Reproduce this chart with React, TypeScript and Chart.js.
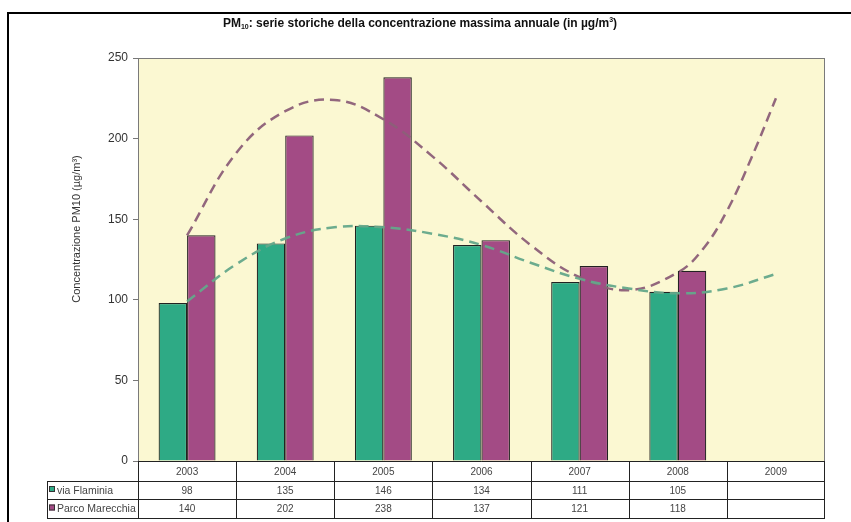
import React, { useEffect, useRef } from "react";
import { Chart, registerables } from "chart.js";

Chart.register(...registerables);

const years = ["2003", "2004", "2005", "2006", "2007", "2008", "2009"];
const viaFlaminia: (number | null)[] = [98, 135, 146, 134, 111, 105, null];
const parcoMarecchia: (number | null)[] = [140, 202, 238, 137, 121, 118, null];
const seriesNames = ["via Flaminia", "Parco Marecchia"];

// trend curves (x: 0 = 2003 ... 6 = 2009, category index)
const trendFlaminiaX = [0, 0.5, 1, 1.5, 2, 2.5, 3, 3.5, 4, 4.5, 5, 5.5, 6];
const trendFlaminiaY = [99, 122, 138, 145, 145, 141, 134, 123, 113, 107, 104, 107, 116];
const trendMarecchiaX = [0, 0.5, 1, 1.5, 2, 2.5, 3, 3.5, 4, 4.5, 5, 5.25, 5.5, 5.75, 6];
const trendMarecchiaY = [140, 191, 217, 224, 212, 189, 161, 134, 114, 106, 117, 131, 155, 188, 225];

const yMin = 0;
const yMax = 250;
const yStep = 50;

const GREEN = "#2EAA85";
const PURPLE = "#A34B85";
const FONT = "'Liberation Sans', Arial, sans-serif";

const decor = {
  id: "decor",
  beforeDraw(chart: any) {
    const { ctx, chartArea: a } = chart;
    ctx.save();
    ctx.fillStyle = "#ffffff";
    ctx.fillRect(0, 0, chart.width, chart.height);
    ctx.fillStyle = "#FBF8D2";
    ctx.fillRect(a.left, a.top, a.right - a.left, a.bottom - a.top);
    ctx.restore();
  },
  afterDraw(chart: any) {
    const { ctx, chartArea: a } = chart;
    ctx.save();
    // plot border
    ctx.strokeStyle = "#7a7a7a";
    ctx.lineWidth = 1;
    ctx.strokeRect(a.left + 0.5, a.top + 0.5, a.right - a.left - 1, a.bottom - a.top);

    // outer frame
    ctx.strokeStyle = "#000";
    ctx.lineWidth = 2;
    ctx.beginPath();
    ctx.moveTo(8, chart.height);
    ctx.lineTo(8, 13);
    ctx.lineTo(chart.width, 13);
    ctx.stroke();

    // title with subscript / superscript
    const parts: [string, string][] = [
      ["PM", "n"],
      ["10", "sub"],
      [": serie storiche della concentrazione massima annuale (in \u00b5g/m", "n"],
      ["3", "sup"],
      [")", "n"],
    ];
    const fN = `bold 12px ${FONT}`;
    const fS = `bold 7px ${FONT}`;
    let total = 0;
    for (const [t, k] of parts) {
      ctx.font = k === "n" ? fN : fS;
      total += ctx.measureText(t).width;
    }
    let x = 420 - total / 2;
    const ty = 27;
    ctx.fillStyle = "#111";
    ctx.textBaseline = "alphabetic";
    ctx.textAlign = "left";
    for (const [t, k] of parts) {
      ctx.font = k === "n" ? fN : fS;
      const dy = k === "sub" ? 2 : k === "sup" ? -5 : 0;
      ctx.fillText(t, x, ty + dy);
      x += ctx.measureText(t).width;
    }

    // y axis title
    ctx.save();
    ctx.translate(77, 229);
    ctx.rotate(-Math.PI / 2);
    ctx.fillStyle = "#333";
    ctx.textAlign = "center";
    ctx.textBaseline = "middle";
    ctx.font = `11px ${FONT}`;
    ctx.fillText("Concentrazione PM10 (\u00b5g/m\u00b3)", 0, 0);
    ctx.restore();

    // data table
    const n = years.length;
    const w = (a.right - a.left) / n;
    const r0 = a.bottom;
    const r1 = r0 + 20;
    const r2 = r1 + 18;
    const r3 = r2 + 19;
    const labL = 47;
    ctx.fillStyle = "#fff";
    ctx.fillRect(labL, r1, a.right - labL, r3 - r1);
    ctx.strokeStyle = "#222";
    ctx.lineWidth = 1;
    ctx.beginPath();
    ctx.moveTo(a.left, Math.round(r0) + 0.5);
    ctx.lineTo(a.right, Math.round(r0) + 0.5);
    for (const ry of [r1, r2, r3]) {
      ctx.moveTo(labL, Math.round(ry) + 0.5);
      ctx.lineTo(a.right, Math.round(ry) + 0.5);
    }
    ctx.moveTo(labL + 0.5, r1);
    ctx.lineTo(labL + 0.5, r3);
    for (let i = 0; i <= n; i++) {
      const vx = Math.round(a.left + i * w) + (i === n ? -0.5 : 0.5);
      ctx.moveTo(vx, r0);
      ctx.lineTo(vx, r3);
    }
    ctx.stroke();

    ctx.fillStyle = "#444";
    ctx.font = `10px ${FONT}`;
    ctx.textAlign = "center";
    ctx.textBaseline = "middle";
    const rows = [viaFlaminia, parcoMarecchia];
    for (let i = 0; i < n; i++) {
      const cx = a.left + (i + 0.5) * w;
      ctx.fillText(years[i], cx, (r0 + r1) / 2 + 1);
      rows.forEach((row, j) => {
        const v = row[i];
        if (v !== null && v !== undefined) {
          const cy = j === 0 ? (r1 + r2) / 2 + 1 : (r2 + r3) / 2 + 1;
          ctx.fillText(String(v), cx, cy);
        }
      });
    }
    // legend keys + labels
    const cols = [GREEN, PURPLE];
    ctx.textAlign = "left";
    ctx.font = `10.5px ${FONT}`;
    seriesNames.forEach((name, j) => {
      const cy = j === 0 ? (r1 + r2) / 2 + 1 : (r2 + r3) / 2 + 1;
      ctx.fillStyle = cols[j];
      ctx.fillRect(49, cy - 5, 6, 6);
      ctx.strokeStyle = "#333";
      ctx.strokeRect(49.5, cy - 4.5, 5, 5);
      ctx.fillStyle = "#444";
      ctx.fillText(name, 57, cy);
    });
    ctx.restore();
  },
};

export default function App() {
  const ref = useRef<HTMLCanvasElement | null>(null);
  useEffect(() => {
    if (!ref.current) return;
    const chart = new Chart(ref.current, {
      type: "bar",
      data: {
        labels: years,
        datasets: [
          {
            label: seriesNames[0],
            data: viaFlaminia,
            backgroundColor: GREEN,
            borderColor: "#222",
            borderWidth: 1.2,
            categoryPercentage: 0.58,
            barPercentage: 1.0,
            order: 2,
          },
          {
            label: seriesNames[1],
            data: parcoMarecchia,
            backgroundColor: PURPLE,
            borderColor: "#222",
            borderWidth: 1.2,
            categoryPercentage: 0.58,
            barPercentage: 1.0,
            order: 2,
          },
          {
            type: "line",
            label: "trend " + seriesNames[0],
            data: trendFlaminiaX.map((x, i) => ({ x, y: trendFlaminiaY[i] })),
            parsing: false,
            borderColor: "rgba(100,168,138,0.95)",
            borderWidth: 2.5,
            borderDash: [10, 6],
            pointRadius: 0,
            tension: 0.4,
            fill: false,
            order: 1,
          } as any,
          {
            type: "line",
            label: "trend " + seriesNames[1],
            data: trendMarecchiaX.map((x, i) => ({ x, y: trendMarecchiaY[i] })),
            parsing: false,
            borderColor: "rgba(140,95,120,0.95)",
            borderWidth: 2.5,
            borderDash: [10, 6],
            pointRadius: 0,
            tension: 0.4,
            fill: false,
            order: 1,
          } as any,
        ],
      },
      options: {
        animation: false,
        responsive: false,
        maintainAspectRatio: false,
        layout: { padding: { left: 0, right: 26, top: 58, bottom: 61 } },
        plugins: {
          legend: { display: false },
          title: { display: false },
          tooltip: { enabled: false },
        },
        scales: {
          x: { display: false, offset: true },
          y: {
            min: yMin,
            max: yMax,
            afterFit: (s: any) => {
              s.width = 138;
            },
            ticks: {
              stepSize: yStep,
              padding: 5,
              color: "#333",
              font: { family: FONT, size: 12 },
            },
            grid: {
              display: true,
              drawOnChartArea: false,
              drawTicks: true,
              tickLength: 5,
              color: "#777",
            },
            border: { display: false },
          },
        },
      },
      plugins: [decor],
    });
    return () => chart.destroy();
  }, []);
  return (
    <div style={{ position: "fixed", left: 0, top: 0, width: 851, height: 522 }}>
      <canvas ref={ref} width={851} height={522} style={{ width: 851, height: 522, display: "block" }} />
    </div>
  );
}
